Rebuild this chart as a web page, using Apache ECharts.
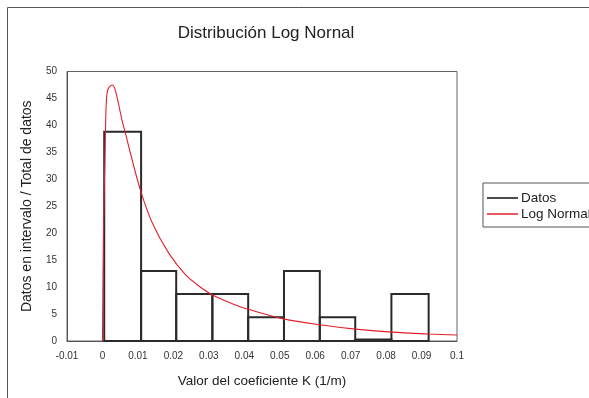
<!DOCTYPE html>
<html>
<head>
<meta charset="utf-8">
<script src="https://cdn.jsdelivr.net/npm/echarts@6/dist/echarts.min.js"></script>
<style>
html, body { margin: 0; padding: 0; background: #fff; }
#chart { width: 589px; height: 398px; }
</style>
</head>
<body>
<div id="chart"></div>
<script>
// intervalos del histograma (inicio, fin) y valor
var binStart = [0.0005, 0.0109, 0.0208, 0.0310, 0.0411, 0.0512, 0.0613, 0.0713, 0.0815];
var binEnd = [0.0109, 0.0208, 0.0310, 0.0411, 0.0512, 0.0613, 0.0713, 0.0815, 0.0920];
var binValue = [38.8, 13.0, 8.7, 8.7, 4.4, 13.0, 4.4, 0.3, 8.7];

// curva log normal
var curveX = [0, 0.0003, 0.0007, 0.0010, 0.0013, 0.0018, 0.0028, 0.0036, 0.0046, 0.0055, 0.0065, 0.0079, 0.0107, 0.0140, 0.0187, 0.0234, 0.0270, 0.0309, 0.0375, 0.0411, 0.0511, 0.0613, 0.0713, 0.0815, 0.0920, 0.1000];
var curveY = [0, 21, 34, 43, 46, 47, 47.5, 46.6, 43.8, 41.0, 38.5, 34.8, 28.0, 22.0, 16.3, 12.3, 10.3, 8.6, 6.7, 5.9, 4.1, 3.0, 2.2, 1.65, 1.3, 1.1];

var histData = [];
for (var i = 0; i < binValue.length; i++) {
	histData.push([binStart[i], binEnd[i], binValue[i]]);
}
var curveData = [];
for (var j = 0; j < curveX.length; j++) {
	curveData.push([curveX[j], curveY[j]]);
}

var fontName = 'Liberation Sans, Arial, sans-serif';
var myChart = echarts.init(document.getElementById('chart'));
var option = {
	animation: false,
	title: {
		text: 'Distribución Log Nornal',
		left: 261,
		top: 20,
		textAlign: 'center',
		textStyle: { fontFamily: fontName, fontSize: 17, fontWeight: 'normal', color: '#222' }
	},
	legend: {
		orient: 'vertical',
		left: 483,
		top: 183,
		padding: [8, 60, 6, 4],
		itemGap: 2,
		itemWidth: 31,
		itemHeight: 1.5,
		borderColor: '#555',
		borderWidth: 1,
		textStyle: { fontFamily: fontName, fontSize: 13.5, lineHeight: 14, color: '#222', padding: [0, 0, 0, -2] },
		data: [
			{ name: 'Datos', icon: 'rect', itemStyle: { color: '#111' } },
			{ name: 'Log Normal', icon: 'rect', itemStyle: { color: '#e3202a' } }
		]
	},
	grid: {
		left: 67,
		top: 71.5,
		right: 132,
		bottom: 57,
		show: true,
		borderColor: '#666',
		borderWidth: 1
	},
	xAxis: {
		type: 'value',
		min: -0.01,
		max: 0.1,
		interval: 0.01,
		name: 'Valor del coeficiente K (1/m)',
		nameLocation: 'middle',
		nameGap: 33,
		nameTextStyle: { fontFamily: fontName, fontSize: 13.5, color: '#222' },
		axisLine: { show: true, lineStyle: { color: '#555' } },
		axisTick: { show: false },
		splitLine: { show: false },
		axisLabel: {
			fontFamily: fontName, fontSize: 10, color: '#333', margin: 10,
			formatter: function(v) { return String(+v.toFixed(2)); }
		}
	},
	yAxis: {
		type: 'value',
		min: 0,
		max: 50,
		interval: 5,
		name: 'Datos en intervalo / Total de datos',
		nameLocation: 'middle',
		nameGap: 33,
		nameTextStyle: { fontFamily: fontName, fontSize: 14, color: '#222' },
		axisLine: { show: true, onZero: false, lineStyle: { color: '#555' } },
		axisTick: { show: false },
		splitLine: { show: false },
		axisLabel: { fontFamily: fontName, fontSize: 10, color: '#333', margin: 10 }
	},
	graphic: [{
		type: 'rect',
		shape: { x: 7.5, y: 7.5, width: 700, height: 500 },
		style: { fill: 'none', stroke: '#555', lineWidth: 1 },
		silent: true
	}],
	series: [{
		name: 'Datos',
		type: 'custom',
		itemStyle: { color: '#111' },
		encode: { x: [0, 1], y: 2 },
		renderItem: function(params, api) {
			var p0 = api.coord([api.value(0), api.value(2)]);
			var p1 = api.coord([api.value(1), 0]);
			return {
				type: 'rect',
				shape: { x: p0[0], y: p0[1], width: p1[0] - p0[0], height: p1[1] - p0[1] },
				style: { fill: 'none', stroke: '#2a2a2a', lineWidth: 2 }
			};
		},
		data: histData
	}, {
		name: 'Log Normal',
		type: 'line',
		smooth: 0.3,
		showSymbol: false,
		lineStyle: { color: '#e3202a', width: 1.1 },
		itemStyle: { color: '#e3202a' },
		data: curveData
	}]
};
myChart.setOption(option);
</script>
</body>
</html>
